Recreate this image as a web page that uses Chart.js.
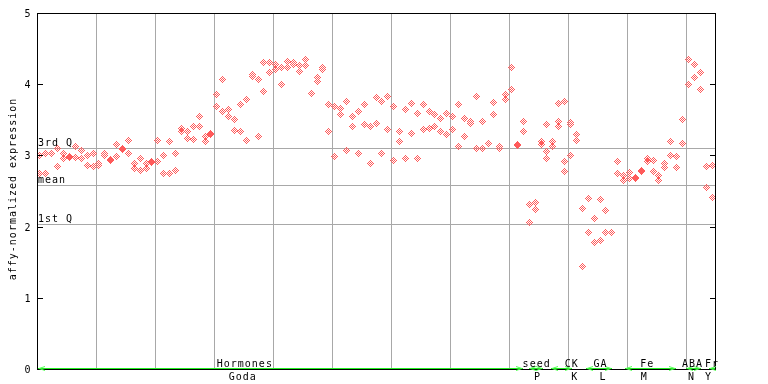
<!DOCTYPE html>
<html><head><meta charset="utf-8">
<script src="https://cdn.jsdelivr.net/npm/chart.js@4/dist/chart.umd.min.js"></script>
<style>html,body{margin:0;padding:0;background:#fff}#wrap{width:768px;height:384px;position:relative}</style>
</head><body><div id="wrap"><canvas id="c" width="768" height="384"></canvas></div>
<script>
// replicate values per sample (sample index = array position)
const rep1 = [
3.00, 3.03, 3.03, 3.10, 3.03, 2.99, 3.13, 3.07, 3.00, 3.03,
2.88, 3.03, 2.94, 3.16, 3.10, 3.21, 2.88, 2.95, 2.89, 2.92,
3.21, 3.00, 3.19, 3.03, 3.38, 3.34, 3.40, 3.54, 3.27, 3.31,
3.85, 4.07, 3.64, 3.51, 3.71, 3.78, 4.13, 4.07, 4.30, 4.30,
4.27, 4.23, 4.32, 4.30, 4.26, 4.34, 3.87, 4.10, 4.23, 3.72,
3.68, 3.66, 3.76, 3.54, 3.62, 3.72, 3.40, 3.82, 3.76, 3.83,
3.69, 3.34, 3.65, 3.73, 3.59, 3.72, 3.61, 3.58, 3.52, 3.59,
3.54, 3.72, 3.52, 3.48, 3.83, 3.47, 3.17, 3.75, 3.13, 3.85,
4.24, 3.15, 3.48, 2.31, 2.34, 3.19, 3.44, 3.20, 3.73, 3.76,
3.46, 3.30, 2.26, 2.40, 2.12, 2.38, 2.23, 1.92, 2.92, 2.72,
2.76, 2.69, 2.79, 2.95, 2.93, 2.72, 2.88, 3.20, 2.98, 3.51,
4.35, 4.28, 4.17, 2.85, 2.86
];
const rep2 = [
2.74, 2.74, null, 2.85, 2.95, 2.975, 2.97, 2.95, 2.86, 2.85,
2.865, 3.00, 2.925, 2.99, 3.085, 3.02, 2.81, 2.79, 2.82, 2.905,
2.92, 2.75, 2.74, 2.79, 3.33, 3.24, 3.23, 3.41, 3.20, 3.30,
3.68, 3.62, 3.54, 3.35, 3.33, 3.21, 4.115, 3.27, 3.90, 4.17,
4.20, 3.99, 4.23, 4.27, 4.18, 4.26, null, 4.04, 4.20, 3.33,
2.99, 3.57, 3.07, 3.40, 3.02, 3.43, 2.88, 3.45, 3.03, 3.37,
2.93, 3.19, 2.95, 3.31, 2.95, 3.36, 3.38, 3.41, 3.33, 3.30,
3.36, 3.13, 3.27, 3.45, 3.09, 3.10, null, 3.57, 3.10, 3.78,
3.92, 3.135, 3.34, 2.06, 2.24, 3.16, 3.06, 3.13, 3.48, 2.92,
3.44, 3.21, 1.44, 1.92, 1.78, 1.81, 1.92, null, 2.75, 2.65,
2.68, 2.67, 2.775, 2.92, 2.78, 2.65, 2.83, 3.00, 2.83, 3.17,
4.00, 4.10, 3.93, 2.55, 2.41
];
const rep3 = rep1.map(() => null);
rep3[86] = 2.96; rep3[88] = 3.41; rep3[89] = 2.78; rep3[90] = 3.00;

const yTicks = [0, 1, 2, 3, 4, 5];
const xGrid = [10, 20, 30, 40, 50, 60, 70, 80, 90, 100, 110];
const quartileNames = ['3rd Q', 'mean', '1st Q'];
const quartileValues = [3.104, 2.584, 2.037];
const groupNames = ['Hormones', 'seed', 'CK', 'GA', 'Fe', 'ABA', 'Fr'];
const groupCodes = ['Goda', 'P', 'K', 'L', 'M', 'N', 'Y'];
const groupStart = [0.1, 83.4, 87.2, 93.1, 99.8, 110.1, 114.0];
const groupEnd = [82.5, 85.8, 90.8, 97.6, 108.4, 112.6, 115.0];
const groupNameAt = [35.25, 84.75, 90.7, 95.6, 103.5, 111.2, 114.5];
const groupCodeAt = [34.9, 84.9, 91.2, 96.0, 103.0, 111.0, 113.9];
const yTitle = 'affy-normalized expression';

const RED = '#ff5a5a';
function diamond(color) {
  const c = document.createElement('canvas'); c.width = 7; c.height = 7;
  const g = c.getContext('2d'); g.fillStyle = color;
  for (let dy = -3; dy <= 3; dy++) for (let dx = -3; dx <= 3; dx++) {
    const d = Math.abs(dx) + Math.abs(dy);
    if (d <= 3 && d % 2 === 1) g.fillRect(dx + 3, dy + 3, 1, 1);
  }
  return c;
}
const dia = diamond(RED);
const toPts = arr => arr.map((v, i) => v == null ? null : { x: i + 0.5, y: v }).filter(p => p);

const FONT = '10px "DejaVu Sans Mono", "Liberation Mono", monospace';
function setFont(ctx) { ctx.font = FONT; try { ctx.letterSpacing = '1px'; } catch (e) {} ctx.fillStyle = '#000'; }

const deco = {
  id: 'deco',
  beforeDraw(chart) { chart.ctx.imageSmoothingEnabled = false; },
  beforeDatasetsDraw(chart) {
    const { ctx, chartArea: a, scales: { x, y } } = chart;
    ctx.save();
    ctx.strokeStyle = '#a8a8a8'; ctx.lineWidth = 1;
    ctx.beginPath();
    xGrid.forEach(v => { const px = Math.round(x.getPixelForValue(v)) + 0.5; ctx.moveTo(px, a.top); ctx.lineTo(px, a.bottom); });
    quartileValues.forEach(v => { const py = Math.round(y.getPixelForValue(v)) + 0.5; ctx.moveTo(a.left, py); ctx.lineTo(a.right, py); });
    ctx.stroke();
    setFont(ctx); ctx.textAlign = 'left'; ctx.textBaseline = 'alphabetic';
    quartileNames.forEach((n, i) => { const py = Math.round(y.getPixelForValue(quartileValues[i])); ctx.fillText(n, a.left + 1, py - 2); });
    ctx.restore();
  },
  afterDatasetsDraw(chart) {
    const { ctx, chartArea: a, scales: { x, y } } = chart;
    ctx.save();
    ctx.strokeStyle = '#000'; ctx.lineWidth = 1;
    ctx.strokeRect(a.left + 0.5, a.top + 0.5, a.right - a.left, a.bottom - a.top);
    ctx.beginPath();
    yTicks.forEach(v => {
      const py = Math.round(y.getPixelForValue(v)) + 0.5;
      ctx.moveTo(a.left, py); ctx.lineTo(a.left + 6, py);
      ctx.moveTo(a.right - 5, py); ctx.lineTo(a.right, py);
    });
    ctx.stroke();
    setFont(ctx); ctx.textAlign = 'center'; ctx.textBaseline = 'alphabetic';
    yTicks.forEach(v => { const py = Math.round(y.getPixelForValue(v)); ctx.fillText(String(v), 28, py + 4); });
    // y title
    ctx.save(); ctx.translate(15.5, 189); ctx.rotate(-Math.PI / 2); ctx.textAlign = 'center'; ctx.fillText(yTitle, 0, 0); ctx.restore();
    // green group arrows
    const gy = a.bottom - 0.5;
    groupStart.forEach((s, i) => {
      const sx = Math.round(x.getPixelForValue(s)), ex = Math.round(x.getPixelForValue(groupEnd[i]));
      ctx.strokeStyle = '#22ee22'; ctx.beginPath(); ctx.moveTo(sx, gy); ctx.lineTo(ex, gy); ctx.stroke();
      ctx.strokeStyle = '#55ff55'; ctx.beginPath();
      ctx.moveTo(sx + 7, gy - 2); ctx.lineTo(sx + 1, gy); ctx.lineTo(sx + 7, gy + 2);
      if (i < groupStart.length - 1) { ctx.moveTo(ex - 7, gy - 2); ctx.lineTo(ex - 1, gy); ctx.lineTo(ex - 7, gy + 2); }
      ctx.stroke();
    });
    ctx.fillStyle = '#000'; ctx.textAlign = 'center';
    groupNames.forEach((n, i) => ctx.fillText(n, x.getPixelForValue(groupNameAt[i]), a.bottom - 2));
    groupCodes.forEach((n, i) => ctx.fillText(n, x.getPixelForValue(groupCodeAt[i]), a.bottom + 11));
    ctx.restore();
  }
};

const ds = d => ({ data: toPts(d), pointStyle: dia, pointRadius: 3.5, pointHoverRadius: 3.5, showLine: false, backgroundColor: RED, borderColor: RED });
new Chart(document.getElementById('c'), {
  type: 'scatter',
  data: { datasets: [ds(rep1), ds(rep2), ds(rep3)] },
  options: {
    responsive: false, animation: false, devicePixelRatio: 1,
    layout: { padding: { left: 37, top: 13, right: 53, bottom: 15 } },
    plugins: { legend: { display: false }, tooltip: { enabled: false } },
    scales: {
      x: { type: 'linear', min: 0, max: 115, display: false },
      y: { type: 'linear', min: 0, max: 5, display: false }
    }
  },
  plugins: [deco]
});
</script></body></html>
